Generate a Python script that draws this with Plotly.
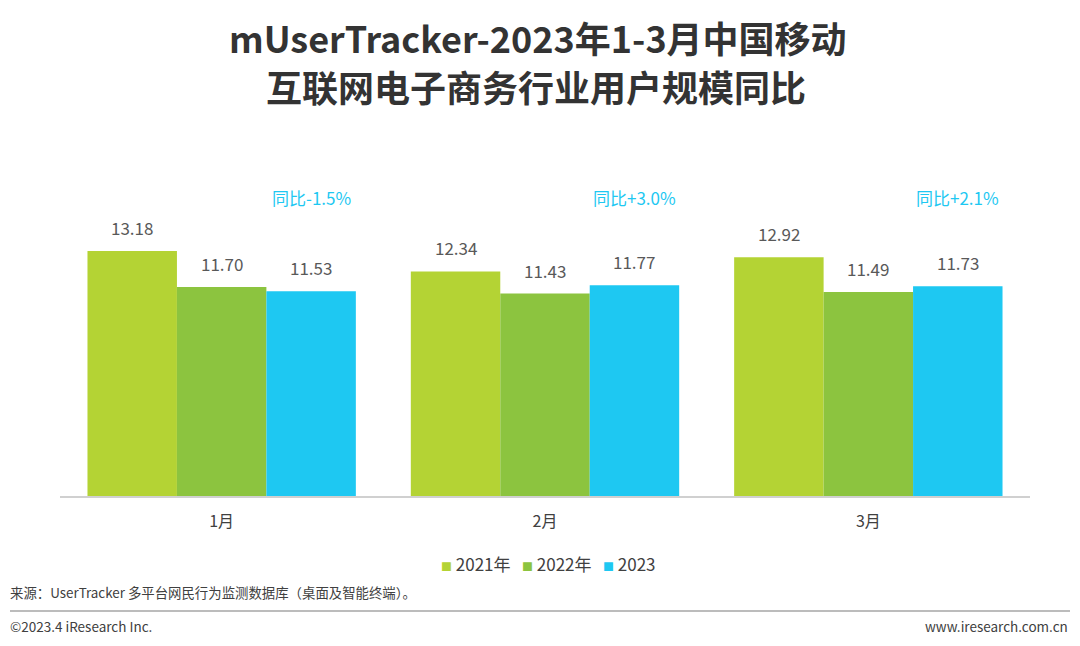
import plotly.graph_objects as go

months = ["1月", "2月", "3月"]
series_names = ["2021年", "2022年", "2023"]
users_2021 = [13.18, 12.34, 12.92]
users_2022 = [11.70, 11.43, 11.49]
users_2023 = [11.53, 11.77, 11.73]
yoy_labels = ["同比-1.5%", "同比+3.0%", "同比+2.1%"]
title_lines = ["mUserTracker-2023年1-3月中国移动", "互联网电子商务行业用户规模同比"]

colors = ["#b4d334", "#8cc43f", "#1ec8f2"]
FONT = "Noto Sans CJK SC, Noto Sans, sans-serif"
TXT = "#404040"

# page body adds an 8px margin, so the figure is drawn 8px smaller and
# every reference pixel position is shifted by OFF
OFF = 8
W, H = 1080 - OFF, 646 - OFF
ML, MR, MT, MB = 60 - OFF, 50, 150 - OFF, 150
pw = W - ML - MR
ph = H - MT - MB
BARGAP = 0.17


def px_x(px):
    return (px - OFF - ML) / pw


def px_y(py):
    return 1 - (py - OFF - MT) / ph


def label(x, y, text, size, color=TXT, xanchor="center", bold=False):
    fig.add_annotation(x=px_x(x), y=px_y(y), xref="paper", yref="paper",
                       text=f"<b>{text}</b>" if bold else text, showarrow=False,
                       xanchor=xanchor, yanchor="middle",
                       font=dict(size=size, color=color, family=FONT))


fig = go.Figure()
all_series = [users_2021, users_2022, users_2023]
for name, vals, col in zip(series_names, all_series, colors):
    fig.add_trace(go.Bar(x=months, y=vals, name=name, marker_color=col,
                         marker_line_width=0, showlegend=False))

# value labels above bars
bar_w = pw / len(months) * (1 - BARGAP) / 3
for i, vals in enumerate(all_series):
    for m, v in zip(months, vals):
        fig.add_annotation(x=m, y=v, text=f"{v:.2f}", showarrow=False,
                           xshift=(i - 1) * bar_w, yshift=9, yanchor="bottom",
                           font=dict(size=17, color="#595959", family=FONT))

# yoy labels over the 2023 bars
for m, t in zip(months, yoy_labels):
    fig.add_annotation(x=m, y=px_y(197), yref="paper", text=t, showarrow=False,
                       xshift=bar_w, yanchor="middle",
                       font=dict(size=17, color="#1ec8f2", family=FONT))

# title, two lines
label(538, 37, title_lines[0], 36, "#333333", bold=True)
label(536, 86, title_lines[1], 36, "#333333", bold=True)

# legend drawn as one text line
legend_txt = "   ".join(
    f"<span style='color:{c};font-size:11px'>■</span> {n}"
    for n, c in zip(series_names, colors))
label(548, 563, legend_txt, 17)

label(8, 592, "来源：UserTracker 多平台网民行为监测数据库（桌面及智能终端）。",
      13.4, xanchor="left")
label(8, 626, "©2023.4 iResearch Inc.", 13.5, xanchor="left")
label(1070, 626, "www.iresearch.com.cn", 13.5, xanchor="right")
fig.add_shape(type="line", xref="paper", yref="paper",
              x0=px_x(10), x1=px_x(1070), y0=px_y(611), y1=px_y(611),
              line=dict(color="#a6a6a6", width=1.5))

fig.update_layout(
    width=W, height=H,
    margin=dict(l=ML, r=MR, t=MT, b=MB),
    barmode="group", bargap=BARGAP, bargroupgap=0,
    plot_bgcolor="white", paper_bgcolor="white",
    font=dict(family=FONT, color=TXT),
    xaxis=dict(showline=True, linecolor="#d0d0d0", linewidth=1.5, ticks="",
               ticklabelstandoff=10, tickfont=dict(size=16, color=TXT)),
    yaxis=dict(range=[3.1, 3.1 + ph / 24.3], visible=False, showgrid=False),
    showlegend=False,
)

fig.write_html("out.html")
